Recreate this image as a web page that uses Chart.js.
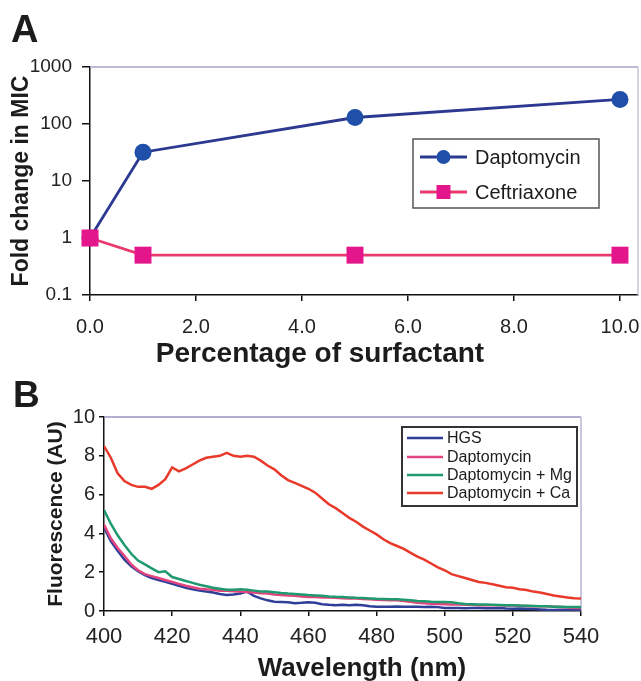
<!DOCTYPE html>
<html>
<head>
<meta charset="utf-8">
<title>MIC and fluorescence</title>
<script src="https://cdn.jsdelivr.net/npm/chart.js@4/dist/chart.umd.min.js"></script>
<style>
html, body { margin: 0; padding: 0; background: #fff; }
#wrapA { position: absolute; left: 0; top: 0; width: 641px; height: 368px; }
#wrapB { position: absolute; left: 0; top: 368px; width: 641px; height: 313px; }
</style>
</head>
<body>
<div id="wrapA"><canvas id="chartA"></canvas></div>
<div id="wrapB"><canvas id="chartB"></canvas></div>
<script>
// ---- panel A : fold change in MIC vs surfactant
var surfactantPct = [0, 1, 5, 10];
var daptomycinMic = [1, 32, 130, 270];
var ceftriaxoneMic = [1, 0.5, 0.5, 0.5];
var xTicksA = [0, 2, 4, 6, 8, 10];
var xTickLabelsA = ['0.0', '2.0', '4.0', '6.0', '8.0', '10.0'];
var yTicksA = [0.1, 1, 10, 100, 1000];
var yTickLabelsA = ['0.1', '1', '10', '100', '1000'];

// ---- panel B : fluorescence spectra
var wavelength = [400, 402, 404, 406, 408, 410, 412, 414, 416, 418,
    420, 422, 424, 426, 428, 430, 432, 434, 436, 438,
    440, 442, 444, 446, 448, 450, 452, 454, 456, 458,
    460, 462, 464, 466, 468, 470, 472, 474, 476, 478,
    480, 482, 484, 486, 488, 490, 492, 494, 496, 498,
    500, 502, 504, 506, 508, 510, 512, 514, 516, 518,
    520, 522, 524, 526, 528, 530, 532, 534, 536, 538, 540];
var hgs = [4.3, 3.6, 3.1, 2.65, 2.3, 2.05, 1.85, 1.7, 1.6, 1.5,
    1.4, 1.3, 1.2, 1.12, 1.05, 1.0, 0.95, 0.88, 0.82, 0.85,
    0.9, 1.0, 0.78, 0.65, 0.55, 0.48, 0.47, 0.45, 0.4, 0.42,
    0.45, 0.42, 0.35, 0.32, 0.3, 0.32, 0.3, 0.32, 0.3, 0.25,
    0.22, 0.22, 0.22, 0.23, 0.22, 0.22, 0.22, 0.2, 0.22, 0.2,
    0.15, 0.15, 0.15, 0.14, 0.15, 0.15, 0.14, 0.14, 0.15, 0.13,
    0.12, 0.13, 0.12, 0.1, 0.08, 0.06, 0.05, 0.06, 0.05, 0.05, 0.05];
var dapto = [4.45, 3.75, 3.25, 2.85, 2.4, 2.1, 1.9, 1.8, 1.7, 1.6,
    1.5, 1.4, 1.3, 1.22, 1.15, 1.12, 1.1, 1.05, 1.05, 1.02,
    1.0, 0.98, 0.95, 0.92, 0.9, 0.85, 0.82, 0.8, 0.78, 0.75,
    0.72, 0.72, 0.7, 0.7, 0.68, 0.66, 0.65, 0.65, 0.62, 0.6,
    0.58, 0.57, 0.55, 0.55, 0.52, 0.48, 0.42, 0.4, 0.38, 0.36,
    0.35, 0.34, 0.33, 0.32, 0.32, 0.3, 0.3, 0.3, 0.3, 0.28,
    0.28, 0.27, 0.26, 0.25, 0.25, 0.24, 0.22, 0.2, 0.18, 0.16, 0.15];
var daptoMg = [5.2, 4.5, 3.9, 3.4, 2.95, 2.6, 2.4, 2.2, 2.0, 2.05,
    1.75, 1.65, 1.55, 1.45, 1.35, 1.28, 1.2, 1.15, 1.1, 1.1,
    1.12, 1.1, 1.05, 1.0, 1.0, 0.97, 0.93, 0.9, 0.88, 0.85,
    0.82, 0.8, 0.78, 0.75, 0.73, 0.72, 0.7, 0.68, 0.67, 0.65,
    0.63, 0.62, 0.6, 0.6, 0.58, 0.55, 0.52, 0.5, 0.48, 0.47,
    0.47, 0.45, 0.4, 0.36, 0.35, 0.34, 0.33, 0.32, 0.31, 0.3,
    0.3, 0.28, 0.27, 0.26, 0.25, 0.24, 0.22, 0.22, 0.21, 0.2, 0.2];
var daptoCa = [8.5, 7.9, 7.1, 6.7, 6.5, 6.4, 6.4, 6.3, 6.5, 6.8,
    7.4, 7.2, 7.35, 7.55, 7.75, 7.9, 7.95, 8.0, 8.15, 8.0,
    7.95, 8.0, 7.95, 7.75, 7.5, 7.3, 7.0, 6.75, 6.6, 6.45,
    6.3, 6.1, 5.8, 5.5, 5.3, 5.05, 4.8, 4.6, 4.35, 4.15,
    3.95, 3.7, 3.5, 3.35, 3.2, 3.0, 2.8, 2.65, 2.45, 2.25,
    2.1, 1.9, 1.8, 1.7, 1.6, 1.5, 1.45, 1.38, 1.3, 1.22,
    1.2, 1.12, 1.08, 1.0, 0.95, 0.88, 0.8, 0.75, 0.7, 0.66, 0.65];
var xTicksB = [400, 420, 440, 460, 480, 500, 520, 540];
var yTicksB = [0, 1, 2, 3, 4, 5, 6, 7, 8, 9, 10];
var yTickLabelsB = ['0', '', '2', '', '4', '', '6', '', '8', '', '10'];

var FONT = '"Liberation Sans", Arial, Helvetica, sans-serif';
var INK = '#1c1c1c';
Chart.defaults.font.family = FONT;
Chart.defaults.color = INK;

var pairs = function(xs, ys){
    return xs.map(function(x, i){ return { x: x, y: ys[i] }; });
};

// fixed axis sizes, no auto padding from the tick labels
var fixX = function(h){
    return function(s){ s.height = h; s.paddingLeft = 0; s.paddingRight = 0; };
};
var fixY = function(w){
    return function(s){ s.width = w; s.paddingTop = 0; s.paddingBottom = 0; };
};

// light top / right edge of the plot frame
var makeFrame = function(topColor, rightColor){
    return {
        id: 'frameLines',
        beforeDatasetsDraw: function(chart){
            var a = chart.chartArea, ctx = chart.ctx;
            ctx.save();
            ctx.lineWidth = 1.5;
            ctx.strokeStyle = topColor;
            ctx.beginPath(); ctx.moveTo(a.left, a.top); ctx.lineTo(a.right, a.top); ctx.stroke();
            ctx.strokeStyle = rightColor;
            ctx.beginPath(); ctx.moveTo(a.right, a.top); ctx.lineTo(a.right, a.bottom); ctx.stroke();
            ctx.restore();
        }
    };
};

// boxed legend drawn inside the plot
var makeLegend = function(box){
    return {
        id: 'boxLegend',
        afterDatasetsDraw: function(chart){
            var ctx = chart.ctx;
            ctx.save();
            ctx.fillStyle = '#fff';
            ctx.fillRect(box.x, box.y, box.w, box.h);
            ctx.strokeStyle = box.border;
            ctx.lineWidth = box.borderWidth;
            ctx.strokeRect(box.x, box.y, box.w, box.h);
            chart.data.datasets.forEach(function(ds, i){
                var cy = box.rows[i];
                var mx = (box.lineX1 + box.lineX2) / 2;
                ctx.strokeStyle = ds.borderColor;
                ctx.lineWidth = ds.borderWidth;
                ctx.beginPath(); ctx.moveTo(box.lineX1, cy); ctx.lineTo(box.lineX2, cy); ctx.stroke();
                if( ds.pointRadius > 0 ){
                    ctx.fillStyle = ds.pointBackgroundColor;
                    if( ds.pointStyle === 'rect' ){
                        ctx.fillRect(mx - box.marker / 2, cy - box.marker / 2, box.marker, box.marker);
                    }else{
                        ctx.beginPath(); ctx.arc(mx, cy, box.marker / 2, 0, Math.PI * 2); ctx.fill();
                    }
                }
                ctx.fillStyle = INK;
                ctx.font = box.font;
                ctx.textAlign = 'left';
                ctx.textBaseline = 'middle';
                ctx.fillText(ds.label, box.textX, cy + 1);
            });
            ctx.restore();
        }
    };
};

// panel letter and x axis title
var makeTexts = function(items){
    return {
        id: 'panelTexts',
        afterDraw: function(chart){
            var ctx = chart.ctx;
            items.forEach(function(t){
                ctx.save();
                ctx.font = t.font;
                ctx.fillStyle = INK;
                ctx.textAlign = t.align;
                ctx.textBaseline = 'alphabetic';
                ctx.fillText(t.text, t.x, t.y);
                ctx.restore();
            });
        }
    };
};

var axisLine = { display: true, color: '#111', width: 1.5 };

var chartA = new Chart(document.getElementById('chartA'), {
    type: 'line',
    data: {
        datasets: [{
            label: 'Daptomycin',
            data: pairs(surfactantPct, daptomycinMic),
            borderColor: '#2b3990',
            borderWidth: 2.8,
            pointStyle: 'circle',
            pointRadius: 8.5,
            pointBackgroundColor: '#1f4fa8',
            pointBorderWidth: 0,
            clip: false,
            order: 1
        }, {
            label: 'Ceftriaxone',
            data: pairs(surfactantPct, ceftriaxoneMic),
            borderColor: '#e83a6e',
            borderWidth: 2.8,
            pointStyle: 'rect',
            pointRadius: 12,
            pointBackgroundColor: '#e4168c',
            pointBorderWidth: 0,
            clip: false,
            order: 0
        }]
    },
    options: {
        responsive: true,
        maintainAspectRatio: false,
        animation: false,
        events: [],
        layout: { autoPadding: false, padding: { top: 67, right: 3, left: 0, bottom: 0 } },
        plugins: { legend: { display: false }, tooltip: { enabled: false } },
        scales: {
            x: {
                type: 'linear',
                min: 0,
                max: 10.34,
                afterBuildTicks: function(s){ s.ticks = xTicksA.map(function(v){ return { value: v }; }); },
                afterFit: fixX(73),
                ticks: {
                    font: { size: 20 },
                    color: '#222',
                    padding: 14,
                    maxRotation: 0,
                    callback: function(v, i){ return xTickLabelsA[i]; }
                },
                grid: { display: true, drawOnChartArea: false, drawTicks: true, tickLength: 6, color: '#111', lineWidth: 1.5 },
                border: axisLine
            },
            y: {
                type: 'logarithmic',
                min: 0.1,
                max: 1000,
                afterBuildTicks: function(s){ s.ticks = yTicksA.map(function(v){ return { value: v }; }); },
                afterFit: fixY(90),
                ticks: {
                    font: { size: 19 },
                    color: '#222',
                    padding: 10,
                    callback: function(v, i){ return yTickLabelsA[i]; }
                },
                grid: { display: true, drawOnChartArea: false, drawTicks: true, tickLength: 8, color: '#111', lineWidth: 1.5 },
                border: axisLine,
                title: {
                    display: true,
                    text: 'Fold change in MIC',
                    font: { size: 23, weight: 'bold' },
                    color: INK,
                    padding: { top: 8, bottom: 0 }
                }
            }
        }
    },
    plugins: [
        makeFrame('#a9a3c6', '#c9c5da'),
        makeLegend({ x: 413, y: 139, w: 186, h: 69, rows: [157, 192], lineX1: 420, lineX2: 467,
                     textX: 475, marker: 14, font: '20px ' + FONT, border: '#555', borderWidth: 1.5 }),
        makeTexts([
            { text: 'A', x: 11, y: 42, align: 'left', font: 'bold 38px ' + FONT },
            { text: 'Percentage of surfactant', x: 320, y: 362, align: 'center', font: 'bold 28px ' + FONT }
        ])
    ]
});

var chartB = new Chart(document.getElementById('chartB'), {
    type: 'line',
    data: {
        datasets: [
            { label: 'HGS', data: pairs(wavelength, hgs), borderColor: '#2f3f98' },
            { label: 'Daptomycin', data: pairs(wavelength, dapto), borderColor: '#e2457f' },
            { label: 'Daptomycin + Mg', data: pairs(wavelength, daptoMg), borderColor: '#1f9a6e' },
            { label: 'Daptomycin + Ca', data: pairs(wavelength, daptoCa), borderColor: '#e8392b' }
        ].map(function(ds, i){
            ds.borderWidth = 2.5;
            ds.pointRadius = 0;
            ds.tension = 0;
            ds.order = 4 - i;
            return ds;
        })
    },
    options: {
        responsive: true,
        maintainAspectRatio: false,
        animation: false,
        events: [],
        layout: { autoPadding: false, padding: { top: 49, right: 60, left: 0, bottom: 0 } },
        plugins: { legend: { display: false }, tooltip: { enabled: false } },
        scales: {
            x: {
                type: 'linear',
                min: 400,
                max: 540,
                afterBuildTicks: function(s){ s.ticks = xTicksB.map(function(v){ return { value: v }; }); },
                afterFit: fixX(70),
                ticks: { font: { size: 22 }, color: '#222', padding: 8, maxRotation: 0 },
                grid: { display: true, drawOnChartArea: false, drawTicks: true, tickLength: 5, color: '#111', lineWidth: 1.5 },
                border: axisLine
            },
            y: {
                min: 0,
                max: 10,
                afterBuildTicks: function(s){ s.ticks = yTicksB.map(function(v){ return { value: v }; }); },
                afterFit: fixY(104),
                ticks: {
                    font: { size: 20 },
                    color: '#222',
                    padding: 4,
                    callback: function(v, i){ return yTickLabelsB[i]; }
                },
                grid: { display: true, drawOnChartArea: false, drawTicks: true, tickLength: 5, color: '#111', lineWidth: 1.5 },
                border: axisLine,
                title: {
                    display: true,
                    text: 'Fluorescence (AU)',
                    font: { size: 21, weight: 'bold' },
                    color: INK,
                    padding: { top: 44, bottom: 0 }
                }
            }
        }
    },
    plugins: [
        makeFrame('#9a93c0', '#b9b4d0'),
        makeLegend({ x: 402, y: 59, w: 175, h: 79, rows: [70, 89, 107, 125], lineX1: 407, lineX2: 443,
                     textX: 447, marker: 0, font: '16px ' + FONT, border: '#333', borderWidth: 2 }),
        makeTexts([
            { text: 'B', x: 13, y: 39, align: 'left', font: 'bold 37px ' + FONT },
            { text: 'Wavelength (nm)', x: 362, y: 308, align: 'center', font: 'bold 26px ' + FONT }
        ])
    ]
});
</script>
</body>
</html>
